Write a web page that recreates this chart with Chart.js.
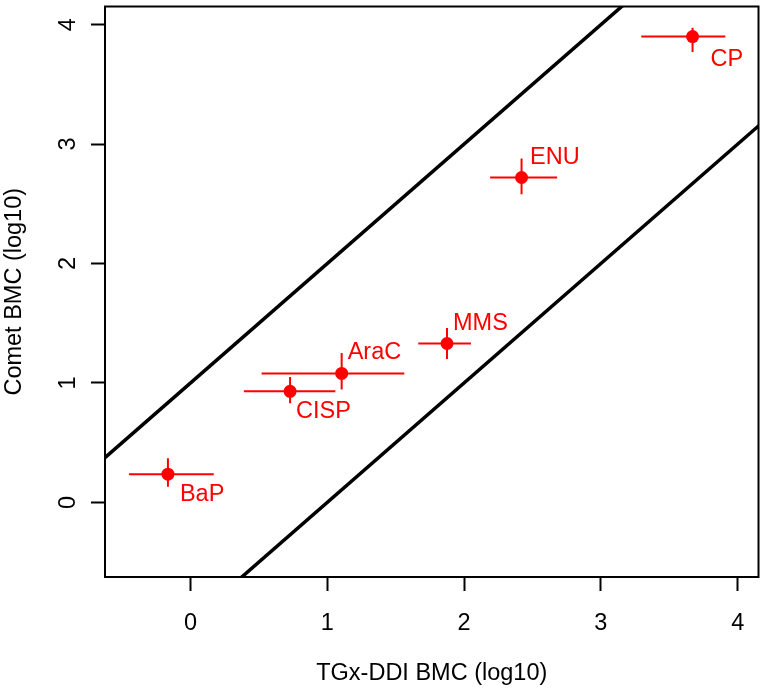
<!DOCTYPE html>
<html>
<head>
<meta charset="utf-8">
<script src="https://cdn.jsdelivr.net/npm/chart.js@4"></script>
<style>
  html, body { margin: 0; padding: 0; background: #fff; }
  #wrap { width: 765px; height: 692px; position: relative; }
</style>
</head>
<body>
<div id="wrap"><canvas id="chart"></canvas></div>
<script>
// compounds and their BMC estimates (log10), with lower/upper bounds
const compounds = ['BaP', 'CISP', 'AraC', 'MMS', 'ENU', 'CP'];
const tgxBmc = [-0.165, 0.728, 1.105, 1.875, 2.42, 3.67];
const tgxLower = [-0.45, 0.39, 0.52, 1.665, 2.19, 3.295];
const tgxUpper = [0.17, 1.059, 1.563, 2.05, 2.68, 3.91];
const cometBmc = [0.236, 0.93, 1.08, 1.33, 2.72, 3.90];
const cometLower = [0.13, 0.83, 0.945, 1.20, 2.58, 3.77];
const cometUpper = [0.37, 1.05, 1.25, 1.46, 2.88, 3.975];

const tickValues = [0, 1, 2, 3, 4];
const bandOffsets = [1, -1]; // y = x + 1 and y = x - 1

const axisMin = -0.625;
const axisMax = 4.152;

const RED = '#ff0000';
const FONT = '"Liberation Sans", Arial, Helvetica, sans-serif';
const FONT_SIZE = 23.5;

// where each compound name sits relative to its point (px)
const labelOffsets = [[12, 26.5], [6, 26.5], [6, -14], [6, -13.5], [8.5, -13.5], [18, 29]];

const datasets = [];

bandOffsets.forEach(off => {
    datasets.push({
        data: [{ x: axisMin - 1, y: axisMin - 1 + off }, { x: axisMax + 1, y: axisMax + 1 + off }],
        showLine: true,
        borderColor: '#000',
        borderWidth: 3.5,
        pointRadius: 0,
        clip: 0
    });
});

compounds.forEach((c, i) => {
    datasets.push({
        data: [{ x: tgxLower[i], y: cometBmc[i] }, { x: tgxUpper[i], y: cometBmc[i] }],
        showLine: true,
        borderColor: RED,
        borderWidth: 2,
        pointRadius: 0
    });
    datasets.push({
        data: [{ x: tgxBmc[i], y: cometLower[i] }, { x: tgxBmc[i], y: cometUpper[i] }],
        showLine: true,
        borderColor: RED,
        borderWidth: 2,
        pointRadius: 0
    });
});

datasets.push({
    data: compounds.map((c, i) => ({ x: tgxBmc[i], y: cometBmc[i] })),
    pointRadius: 6.5,
    pointBackgroundColor: RED,
    pointBorderWidth: 0
});

// box round the plot, rotated y tick labels and compound names
const extras = {
    id: 'extras',
    afterDatasetsDraw(chart) {
        const ctx = chart.ctx;
        const area = chart.chartArea;
        const xs = chart.scales.x;
        const ys = chart.scales.y;

        ctx.save();
        ctx.strokeStyle = '#000';
        ctx.lineWidth = 2;
        ctx.strokeRect(area.left, area.top, area.right - area.left, area.bottom - area.top);

        ctx.fillStyle = '#000';
        ctx.font = FONT_SIZE + 'px ' + FONT;
        ctx.textAlign = 'center';
        ctx.textBaseline = 'alphabetic';
        tickValues.forEach(v => {
            ctx.save();
            ctx.translate(74.5, ys.getPixelForValue(v));
            ctx.rotate(-Math.PI / 2);
            ctx.fillText(String(v), 0, 0);
            ctx.restore();
        });

        ctx.fillStyle = RED;
        ctx.textAlign = 'left';
        compounds.forEach((c, i) => {
            const px = xs.getPixelForValue(tgxBmc[i]);
            const py = ys.getPixelForValue(cometBmc[i]);
            ctx.fillText(c, px + labelOffsets[i][0], py + labelOffsets[i][1]);
        });
        ctx.restore();
    }
};

const gridOpts = {
    drawOnChartArea: false,
    drawTicks: true,
    tickLength: 14,
    tickWidth: 2,
    tickColor: '#000'
};

new Chart(document.getElementById('chart'), {
    type: 'scatter',
    data: { datasets: datasets },
    options: {
        responsive: true,
        maintainAspectRatio: false,
        animation: false,
        layout: { padding: { top: 4, right: 4, left: 0, bottom: 0 } },
        plugins: {
            legend: { display: false },
            tooltip: { enabled: false }
        },
        scales: {
            x: {
                type: 'linear',
                min: axisMin,
                max: axisMax,
                afterBuildTicks: s => { s.ticks = tickValues.map(v => ({ value: v })); },
                afterFit: s => { s.height = 115; },
                grid: gridOpts,
                border: { display: false },
                ticks: {
                    color: '#000',
                    font: { family: FONT, size: FONT_SIZE },
                    padding: 18,
                    maxRotation: 0,
                    callback: v => String(v)
                },
                title: {
                    display: true,
                    text: 'TGx-DDI BMC (log10)',
                    color: '#000',
                    font: { family: FONT, size: FONT_SIZE },
                    padding: { top: 0, bottom: 4 }
                }
            },
            y: {
                type: 'linear',
                min: axisMin,
                max: axisMax,
                afterBuildTicks: s => { s.ticks = tickValues.map(v => ({ value: v })); },
                afterFit: s => { s.width = 105; },
                grid: gridOpts,
                border: { display: false },
                ticks: { display: false },
                title: {
                    display: true,
                    text: 'Comet BMC (log10)',
                    color: '#000',
                    font: { family: FONT, size: FONT_SIZE },
                    padding: { top: 0, bottom: 0 }
                }
            }
        }
    },
    plugins: [extras]
});
</script>
</body>
</html>
